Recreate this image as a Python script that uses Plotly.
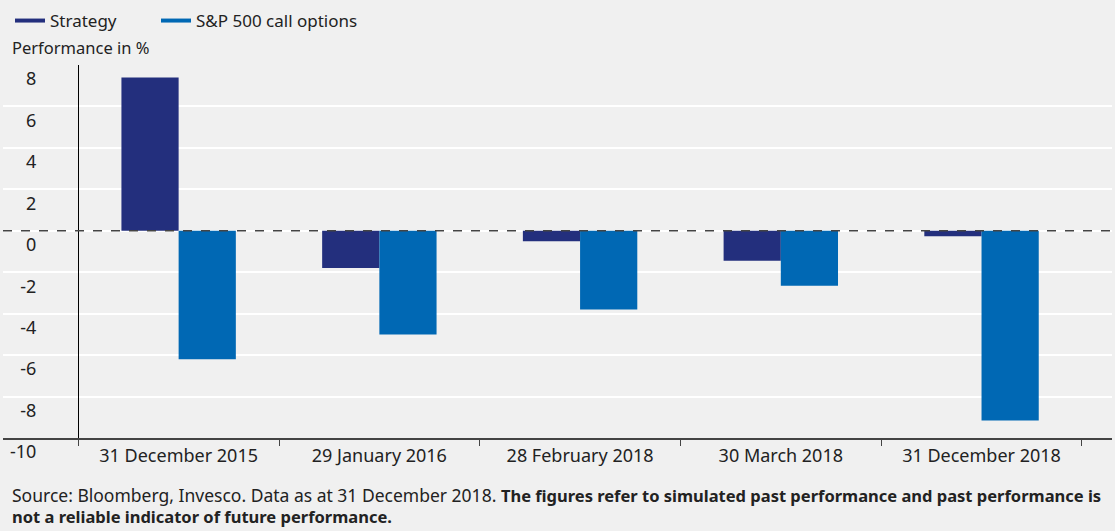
import plotly.graph_objects as go

# Values (performance in %)
dates = ["31 December 2015", "29 January 2016", "28 February 2018",
         "30 March 2018", "31 December 2018"]
strategy = [7.4, -1.8, -0.5, -1.45, -0.27]
sp500_calls = [-6.2, -5.0, -3.8, -2.65, -9.15]
y_ticks = [8, 6, 4, 2, 0, -2, -4, -6, -8, -10]

NAVY = "#232f7d"
BLUE = "#0068b4"
BG = "#f0f0f0"
FONT = "Noto Sans"

W, H = 1115, 531
ML, MR, MT, MB = 3, 3, 65, 93
pw = W - ML - MR
ph = H - MT - MB

fig = go.Figure()
fig.add_trace(go.Bar(x=dates, y=strategy, name="Strategy", marker_color=NAVY,
                     marker_line_width=0, showlegend=False))
fig.add_trace(go.Bar(x=dates, y=sp500_calls, name="S&P 500 call options",
                     marker_color=BLUE, marker_line_width=0, showlegend=False))
# line-style legend entries, one legend each so the spacing matches
fig.add_trace(go.Scatter(x=[None], y=[None], mode="lines", name="Strategy",
                         line=dict(color=NAVY, width=4), legend="legend"))
fig.add_trace(go.Scatter(x=[None], y=[None], mode="lines", name="S&P 500 call options",
                         line=dict(color=BLUE, width=4), legend="legend2"))

# zero line (dashed, over bars)
fig.add_shape(type="line", xref="paper", yref="y", x0=0, x1=1, y0=0, y1=0,
              line=dict(color="#444444", width=1.5, dash="dash"), layer="above")

leg = dict(orientation="h", xanchor="left", y=1 - 3 / H, yref="container",
           yanchor="top", font=dict(size=17), bgcolor="rgba(0,0,0,0)", itemwidth=30)

fig.update_layout(
    width=W, height=H,
    margin=dict(l=ML, r=MR, t=MT, b=MB),
    paper_bgcolor=BG, plot_bgcolor=BG,
    font=dict(family=FONT, size=16, color="#222222"),
    barmode="group", bargap=0.43, bargroupgap=0,
    showlegend=True,
    legend=dict(leg, x=7 / pw),
    legend2=dict(leg, x=153 / pw),
    xaxis=dict(type="category", range=[-0.875, 4.65], showgrid=False,
               tickson="boundaries", ticks="outside", ticklen=6, tickcolor="#444444",
               showline=True, linecolor="#444444", linewidth=2,
               tickfont=dict(size=18)),
    yaxis=dict(range=[-10, 8], tickvals=y_ticks, ticktext=[str(v) for v in y_ticks],
               showgrid=True, gridcolor="#ffffff", gridwidth=2, zeroline=False,
               anchor="free", position=75 / pw, side="left",
               showline=True, linecolor="#000000", linewidth=1,
               ticklabelshift=14, ticklabelstandoff=38, tickfont=dict(size=18)),
)

fig.add_annotation(text="Performance in %", xref="paper", yref="paper",
                   x=7 / pw, y=(ph + MT - 48) / ph, xanchor="left", yanchor="middle",
                   showarrow=False, font=dict(size=16.5))
fig.add_annotation(
    text="<span style='font-size:17.5px'>Source: Bloomberg, Invesco. Data as at 31 December 2018. </span>"
         "<b>The figures refer to simulated past performance and past performance is</b><br>"
         "<b>not a reliable indicator of future performance.</b>",
    xref="paper", yref="paper", x=7 / pw, y=(ph + MT - 481) / ph,
    xanchor="left", yanchor="top", align="left", showarrow=False,
    font=dict(size=16.5))

fig.write_html("out.html", config={"displayModeBar": False},
               post_script="document.body.style.margin='0';")
